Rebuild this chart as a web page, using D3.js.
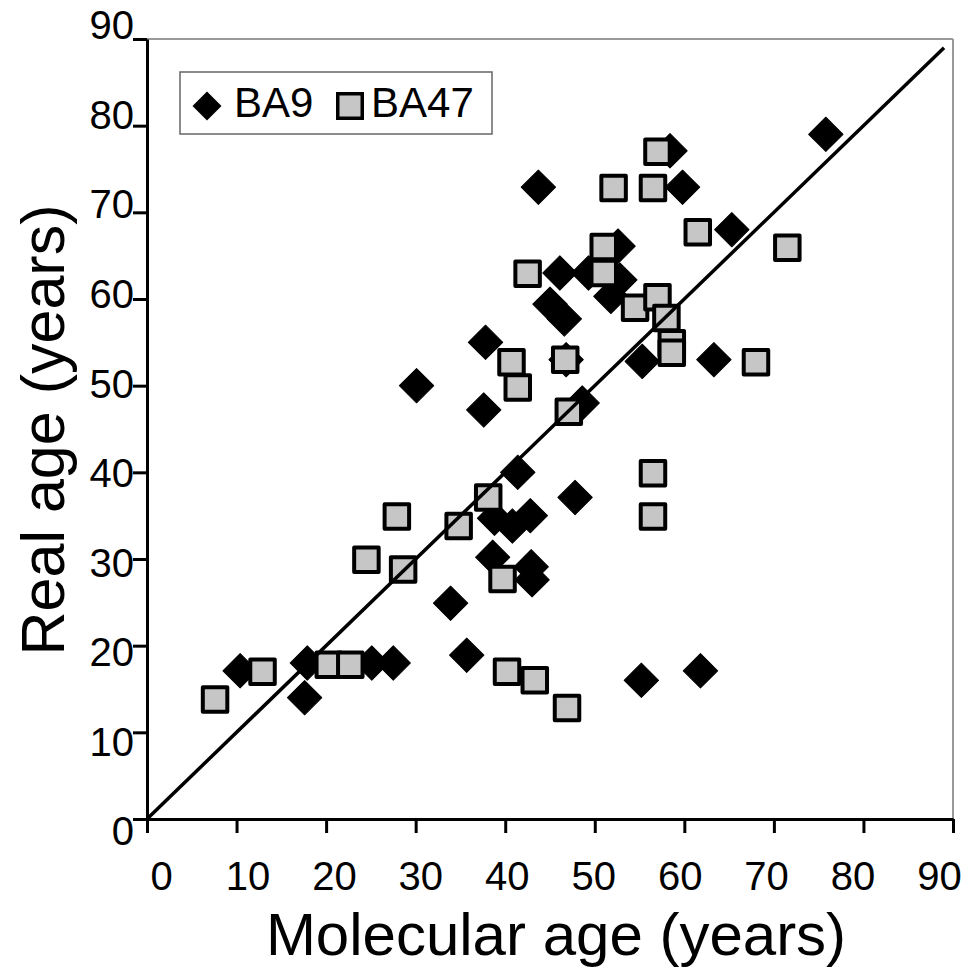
<!DOCTYPE html>
<html>
<head>
<meta charset="utf-8">
<script src="https://cdn.jsdelivr.net/npm/d3@7"></script>
<style>
  body { margin: 0; background: #fff; }
  text { font-family: "Liberation Sans", Arial, sans-serif; fill: #000; }
</style>
</head>
<body>
<div id="chart"></div>
<script>
// BA9 samples (molecular age, real age)
var ba9Molecular = [75.8, 58.4, 43.7, 59.8, 65.3, 52.6, 46.1, 49.3, 52.8, 51.8, 45.0, 46.6,
    37.8, 46.8, 55.3, 63.3, 30.1, 37.6, 48.6, 41.4, 47.8, 38.8, 40.8, 42.8,
    38.6, 42.9, 43.0, 33.9, 35.7, 10.4, 17.9, 17.6, 25.1, 27.5, 55.2, 61.8];
var ba9Real = [79.0, 77.1, 72.9, 72.9, 68.0, 66.1, 63.0, 63.0, 62.2, 60.3, 59.4, 57.7,
    55.0, 53.0, 52.8, 53.0, 50.0, 47.2, 48.0, 40.0, 37.1, 34.7, 33.8, 35.0,
    30.2, 29.1, 27.6, 24.9, 18.9, 17.1, 18.0, 14.0, 18.0, 18.0, 16.0, 17.1];

// BA47 samples (molecular age, real age)
var ba47Molecular = [57.0, 52.1, 56.5, 61.5, 71.5, 51.0, 42.5, 51.0, 54.5, 57.0, 58.0, 58.6,
    58.6, 40.7, 41.4, 46.7, 68.0, 47.1, 38.1, 27.9, 34.8, 24.5, 28.6, 39.7,
    56.5, 56.5, 40.2, 43.3, 46.9, 7.6, 12.9, 20.3, 22.7];
var ba47Real = [77.0, 72.8, 72.8, 67.7, 65.9, 66.0, 62.9, 63.0, 59.0, 60.2, 57.8, 54.9,
    53.8, 52.7, 49.8, 53.0, 52.7, 47.0, 37.1, 34.9, 33.8, 29.9, 28.8, 27.7,
    39.9, 34.9, 17.0, 16.0, 12.8, 13.8, 17.0, 17.8, 17.8];

// identity line and ticks
var lineAges = [0, 89];
var tickValues = [0, 10, 20, 30, 40, 50, 60, 70, 80, 90];
var seriesNames = ["BA9", "BA47"];

var width = 971, height = 970;
var svg = d3.select("#chart").append("svg").attr("width", width).attr("height", height);

var x = d3.scaleLinear().domain([0, 90]).range([147, 953]);
var y = d3.scaleLinear().domain([0, 90]).range([819, 39]);
// tick labels sit a little off the tick marks in the original
var xLab = d3.scaleLinear().domain([0, 90]).range([161, 939]);
var yLab = d3.scaleLinear().domain([0, 90]).range([832, 26]);

// grey frame on top and right
svg.append("line").attr("x1", x(0)).attr("x2", x(90)).attr("y1", y(90)).attr("y2", y(90))
    .attr("stroke", "#999").attr("stroke-width", 2);
svg.append("line").attr("x1", x(90)).attr("x2", x(90)).attr("y1", y(0)).attr("y2", y(90))
    .attr("stroke", "#999").attr("stroke-width", 2);

// axes (ticks only)
var xAxis = svg.append("g").attr("transform", "translate(0," + y(0) + ")")
    .call(d3.axisBottom(x).tickValues(tickValues).tickSize(14).tickSizeOuter(0).tickFormat(""));
var yAxis = svg.append("g").attr("transform", "translate(" + x(0) + ",0)")
    .call(d3.axisLeft(y).tickValues(tickValues).tickSize(14).tickSizeOuter(0).tickFormat(""));
[xAxis, yAxis].forEach(function (g) {
    g.selectAll("path, line").attr("stroke", "#000").attr("stroke-width", 3);
});

// tick labels
var xLabels = svg.append("g").attr("transform", "translate(0,862)")
    .call(d3.axisBottom(xLab).tickValues(tickValues).tickSize(0).tickPadding(0));
var yLabels = svg.append("g").attr("transform", "translate(" + x(0) + ",0)")
    .call(d3.axisLeft(yLab).tickValues(tickValues).tickSize(0).tickPadding(13));
[xLabels, yLabels].forEach(function (g) {
    g.select(".domain").remove();
    g.selectAll("text").attr("font-size", 40).attr("font-family", "Liberation Sans, Arial, sans-serif").attr("fill", "#000");
});

// data marks
var diamond = d3.symbol().type(d3.symbolSquare).size(590);
var square = d3.symbol().type(d3.symbolSquare).size(600);

svg.append("g").selectAll("path").data(d3.range(ba9Molecular.length)).enter().append("path")
    .attr("d", diamond)
    .attr("transform", function (i) {
        return "translate(" + x(ba9Molecular[i]) + "," + y(ba9Real[i]) + ") rotate(45)";
    })
    .attr("fill", "#000").attr("stroke", "#000").attr("stroke-width", 1).attr("stroke-linejoin", "round");

svg.append("g").selectAll("path").data(d3.range(ba47Molecular.length)).enter().append("path")
    .attr("d", square)
    .attr("transform", function (i) {
        return "translate(" + x(ba47Molecular[i]) + "," + y(ba47Real[i]) + ")";
    })
    .attr("fill", "#c6c6c6").attr("stroke", "#000").attr("stroke-width", 4).attr("stroke-linejoin", "round");

// identity line
svg.append("line")
    .attr("x1", x(lineAges[0])).attr("y1", y(lineAges[0]))
    .attr("x2", x(lineAges[1])).attr("y2", y(lineAges[1]))
    .attr("stroke", "#000").attr("stroke-width", 3.5);

// axis titles
svg.append("text").attr("x", 556).attr("y", 955).attr("text-anchor", "middle")
    .attr("font-size", 60).text("Molecular age (years)");
svg.append("text").attr("transform", "translate(64,430) rotate(-90)").attr("text-anchor", "middle")
    .attr("font-size", 61).text("Real age (years)");

// legend
var legend = svg.append("g");
legend.append("rect").attr("x", 180).attr("y", 72).attr("width", 312).attr("height", 62)
    .attr("fill", "#fff").attr("stroke", "#666").attr("stroke-width", 1.5);
legend.append("path").attr("d", d3.symbol().type(d3.symbolSquare).size(420))
    .attr("transform", "translate(207,106) rotate(45)").attr("fill", "#000");
legend.append("text").attr("x", 234).attr("y", 117).attr("font-size", 42).text(seriesNames[0]);
legend.append("path").attr("d", d3.symbol().type(d3.symbolSquare).size(600))
    .attr("transform", "translate(350,106)").attr("fill", "#c6c6c6")
    .attr("stroke", "#000").attr("stroke-width", 3.5);
legend.append("text").attr("x", 371).attr("y", 117).attr("font-size", 42).text(seriesNames[1]);
</script>
</body>
</html>
